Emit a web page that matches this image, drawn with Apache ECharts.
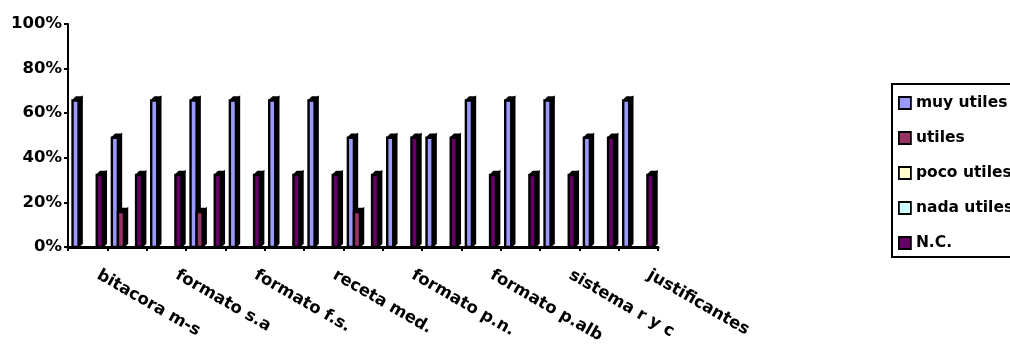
<!DOCTYPE html>
<html>
<head>
<meta charset="utf-8">
<script src="https://cdn.jsdelivr.net/npm/echarts@6/dist/echarts.min.js"></script>
<style>
  html, body { margin: 0; padding: 0; background: #ffffff; }
  #chart { width: 1010px; height: 348px; }
</style>
</head>
<body>
<div id="chart"></div>
<script>
// Document types rated by users; every second category keeps its label hidden
const categories = [
  'bitacora m-s', '', 'formato s.a', '', 'formato f.s.', '', 'receta med.', '',
  'formato p.n.', '', 'formato p.alb', '', 'sistema r y c', '', 'justificantes'
];

// Share of answers per rating (percent)
const muyUtiles  = [66.7, 50, 66.7, 66.7, 66.7, 66.7, 66.7, 50, 50, 50, 66.7, 66.7, 66.7, 50, 66.7];
const utiles     = [0, 16.7, 0, 16.7, 0, 0, 0, 16.7, 0, 0, 0, 0, 0, 0, 0];
const pocoUtiles = [0, 0, 0, 0, 0, 0, 0, 0, 0, 0, 0, 0, 0, 0, 0];
const nadaUtiles = [0, 0, 0, 0, 0, 0, 0, 0, 0, 0, 0, 0, 0, 0, 0];
const noContesta = [33.3, 33.3, 33.3, 33.3, 33.3, 33.3, 33.3, 33.3, 50, 50, 33.3, 33.3, 33.3, 50, 33.3];

const seriesNames  = ['muy utiles', 'utiles', 'poco utiles', 'nada utiles', 'N.C.'];
const seriesValues = [muyUtiles, utiles, pocoUtiles, nadaUtiles, noContesta];
const seriesColors = ['#9999FF', '#993366', '#FFFFCC', '#CCFFFF', '#660066'];

const yTicks = [0, 20, 40, 60, 80, 100];

const FONT = 'DejaVu Sans';
const DEPTH = 3.5;      // depth of the extruded side/top
const GAP_RATIO = 1.5;  // gap between clusters, in bar widths

// Column with a black extruded side and top, placed in its slot of the cluster
function renderColumn(params, api) {
  const v = api.value(1);
  if (!v) return null;
  const idx = api.value(0);
  const top = api.coord([idx, v]);
  const base = api.coord([idx, 0])[1];
  const band = api.size([1, 0])[0];
  const slot = band / (seriesNames.length + GAP_RATIO);
  const x0 = top[0] - band / 2 + slot * GAP_RATIO / 2 + params.seriesIndex * slot;
  const x1 = x0 + slot;
  const yFront = top[1] + DEPTH * 0.65;
  const yBack = yFront - DEPTH;
  const color = api.visual('color');
  return {
    type: 'group',
    children: [
      {
        type: 'polygon',
        shape: { points: [[x1, base], [x1 + DEPTH, base - DEPTH], [x1 + DEPTH, yBack], [x1, yFront]] },
        style: { fill: '#000', stroke: '#000', lineWidth: 1.5 }
      },
      {
        type: 'polygon',
        shape: { points: [[x0, yFront], [x0 + DEPTH, yBack], [x1 + DEPTH, yBack], [x1, yFront]] },
        style: { fill: '#000', stroke: '#000', lineWidth: 1.5, lineJoin: 'round' }
      },
      {
        type: 'rect',
        shape: { x: x0, y: yFront, width: slot, height: base - yFront },
        style: { fill: color, stroke: '#000', lineWidth: 2.4 }
      }
    ]
  };
}

const chart = echarts.init(document.getElementById('chart'), null, { renderer: 'canvas' });

chart.setOption({
  backgroundColor: '#ffffff',
  animation: false,
  grid: { left: 68, right: 352, top: 24, bottom: 101, containLabel: false },
  legend: {
    orient: 'vertical',
    left: 892,
    top: 84,
    icon: 'rect',
    itemWidth: 12,
    itemHeight: 12,
    itemGap: 19,
    padding: [11, 40, 6, 6],
    borderColor: '#000',
    borderWidth: 2,
    selectedMode: false,
    itemStyle: { borderColor: '#000', borderWidth: 1.8 },
    textStyle: { fontFamily: FONT, fontWeight: 'bold', fontSize: 15.5, color: '#000', lineHeight: 16 },
    data: seriesNames
  },
  xAxis: {
    type: 'category',
    data: categories,
    boundaryGap: true,
    axisLine: { show: true, lineStyle: { color: '#000', width: 3 } },
    axisTick: { show: true, interval: 0, length: 4, lineStyle: { color: '#000', width: 2 } },
    axisLabel: {
      interval: 1,
      rotate: -30,
      margin: 21,
      padding: [0, 0, 0, 12],
      fontFamily: FONT,
      fontWeight: 'bold',
      fontSize: 16.5,
      color: '#000',
      hideOverlap: false
    },
    splitLine: { show: false }
  },
  yAxis: {
    type: 'value',
    min: yTicks[0],
    max: yTicks[yTicks.length - 1],
    interval: yTicks[1] - yTicks[0],
    axisLine: { show: true, lineStyle: { color: '#000', width: 2 } },
    axisTick: { show: true, length: 4, lineStyle: { color: '#000', width: 2 } },
    axisLabel: {
      formatter: '{value}%',
      margin: 6,
      fontFamily: FONT,
      fontWeight: 'bold',
      fontSize: 16.5,
      color: '#000'
    },
    splitLine: { show: false }
  },
  series: seriesNames.map((name, s) => ({
    name: name,
    type: 'custom',
    renderItem: renderColumn,
    clip: false,
    itemStyle: { color: seriesColors[s] },
    encode: { x: 0, y: 1 },
    data: seriesValues[s].map((v, i) => [i, v])
  }))
});
</script>
</body>
</html>
